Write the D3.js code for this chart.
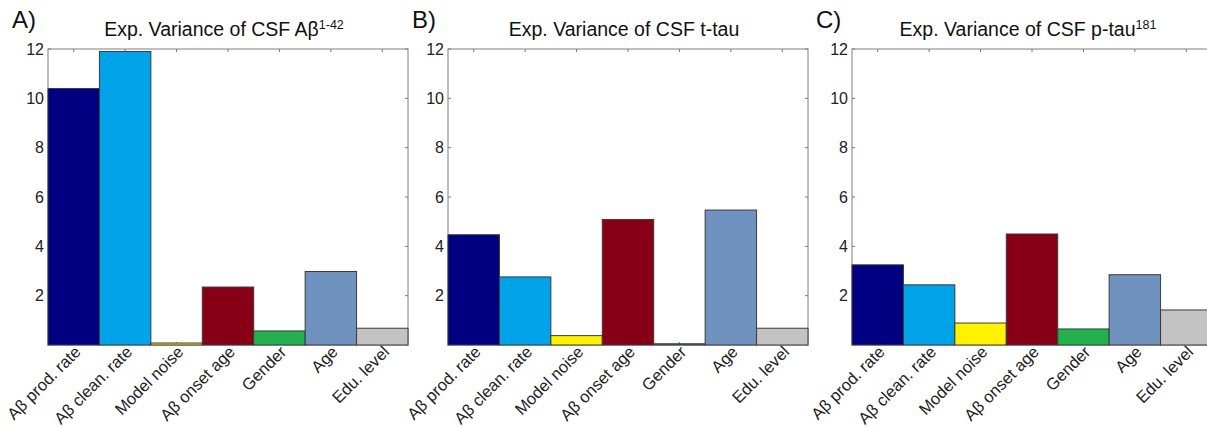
<!DOCTYPE html>
<html>
<head>
<meta charset="utf-8">
<script src="https://cdn.jsdelivr.net/npm/d3@7"></script>
<style>
  body { margin: 0; background: #fff; }
  svg { display: block; font-family: "Liberation Sans", Arial, sans-serif; }
</style>
</head>
<body>
<div id="chart"></div>
<script>
// Categories shared by all three panels
const categories = ["Aβ prod. rate", "Aβ clean. rate", "Model noise", "Aβ onset age", "Gender", "Age", "Edu. level"];
const barColors = ["#000080", "#00A2E8", "#FFF200", "#880015", "#22B14C", "#7092BE", "#C3C3C3"];

// Explained variance per panel
const valuesA = [10.4, 11.9, 0.08, 2.35, 0.57, 2.98, 0.68];
const valuesB = [4.47, 2.76, 0.38, 5.09, 0.05, 5.47, 0.68];
const valuesC = [3.25, 2.44, 0.89, 4.5, 0.65, 2.85, 1.42];

const yTicks = [2, 4, 6, 8, 10, 12];

const panelLetters = ["A)", "B)", "C)"];
const titleMain = ["Exp. Variance of CSF Aβ", "Exp. Variance of CSF t-tau", "Exp. Variance of CSF p-tau"];
const titleSup = ["1-42", "", "181"];

const width = 1207, height = 427;
const panelLeft = [48, 448, 852];
const panelW = 360, plotTop = 49, plotBottom = 345;

const svg = d3.select("#chart").append("svg")
    .attr("width", width)
    .attr("height", height);

const panels = [valuesA, valuesB, valuesC];

panels.forEach(function(values, i) {
    const g = svg.append("g").attr("transform", `translate(${panelLeft[i]},0)`);

    const x = d3.scaleBand().domain(categories).range([0, panelW]).padding(0);
    const y = d3.scaleLinear().domain([0, 12]).range([plotBottom, plotTop]);

    // tick marks (inside) on all four sides
    const ticks = g.append("g").attr("stroke", "#777").attr("stroke-width", 1);
    yTicks.forEach(t => {
        ticks.append("line").attr("x1", 0).attr("x2", 3).attr("y1", y(t)).attr("y2", y(t));
        ticks.append("line").attr("x1", panelW).attr("x2", panelW - 3).attr("y1", y(t)).attr("y2", y(t));
    });
    categories.forEach(c => {
        const cx = x(c) + x.bandwidth() / 2;
        ticks.append("line").attr("x1", cx).attr("x2", cx).attr("y1", plotTop).attr("y2", plotTop + 3);
        ticks.append("line").attr("x1", cx).attr("x2", cx).attr("y1", plotBottom).attr("y2", plotBottom - 3);
    });

    // frame
    g.append("rect")
        .attr("x", 0).attr("y", plotTop)
        .attr("width", panelW).attr("height", plotBottom - plotTop)
        .attr("fill", "none")
        .attr("stroke", "#808080");

    // bars
    g.selectAll("rect.bar")
        .data(values)
        .enter().append("rect")
        .attr("class", "bar")
        .attr("x", (d, j) => x(categories[j]))
        .attr("y", d => y(d))
        .attr("width", x.bandwidth())
        .attr("height", d => y(0) - y(d))
        .attr("fill", (d, j) => barColors[j])
        .attr("stroke", "#3a3a3a")
        .attr("stroke-width", 1);

    // y tick labels
    g.selectAll("text.ylab")
        .data(yTicks)
        .enter().append("text")
        .attr("class", "ylab")
        .attr("x", -4)
        .attr("y", d => y(d))
        .attr("dy", "0.36em")
        .attr("text-anchor", "end")
        .style("font-size", "16px")
        .style("fill", "#222")
        .text(d => d);

    // rotated category labels
    g.selectAll("text.xlab")
        .data(categories)
        .enter().append("text")
        .attr("class", "xlab")
        .attr("transform", d => `translate(${x(d) + x.bandwidth() / 2 + 8},${plotBottom + 8}) rotate(-45)`)
        .attr("text-anchor", "end")
        .style("font-size", "16.5px")
        .style("fill", "#222")
        .text(d => d);

    // title with superscript
    const title = g.append("text")
        .attr("x", panelW / 2 - 4)
        .attr("y", 36)
        .attr("text-anchor", "middle")
        .style("font-size", "19.5px")
        .style("fill", "#111");
    title.append("tspan").text(titleMain[i]);
    if (titleSup[i]) {
        title.append("tspan")
            .attr("dy", -7)
            .style("font-size", "12.5px")
            .text(titleSup[i]);
    }

    // panel letter
    svg.append("text")
        .attr("x", panelLeft[i] - 36)
        .attr("y", 28)
        .style("font-size", "24px")
        .style("fill", "#111")
        .text(panelLetters[i]);
});
</script>
</body>
</html>
